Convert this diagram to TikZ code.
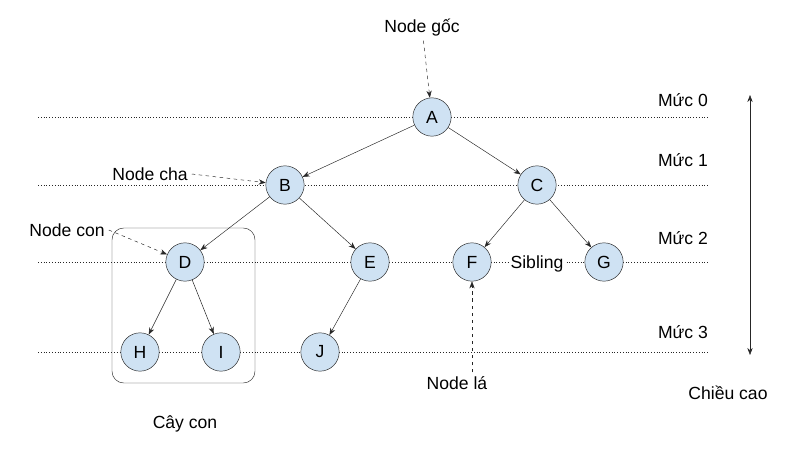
\documentclass[tikz,border=0pt]{standalone}
\usepackage{fontspec}
\setmainfont{Liberation Sans}
\usetikzlibrary{arrows.meta}
\definecolor{nodefill}{HTML}{CFE2F3}
\tikzset{
  tnode/.style={circle,draw=black!85,fill=nodefill,minimum size=1.15cm,inner sep=0pt,font=\fontsize{15}{17}\selectfont},
  lbl/.style={font=\fontsize{15}{17}\selectfont},
  level/.style={dotted,black!85},
  edge/.style={-{Stealth[length=6pt]},black!85},
  hint/.style={dashed,-{Stealth[length=6pt]},black!85}
}
\begin{document}
\begin{tikzpicture}[x=0.03cm,y=-0.03cm]
            \useasboundingbox (0,0) rectangle (800,450);
            % muc
            \draw[level] (38,117) -- (710,117);
            \draw[level] (38,185) -- (710,185);
            \draw[level] (38,262) -- (710,262);
            \draw[level] (38,352) -- (710,352);
            \node[lbl] at (683,100) {Mức 0};
            \node[lbl] at (683,160) {Mức 1};
            \node[lbl] at (683,238) {Mức 2};
            \node[lbl] at (683,332) {Mức 3};
            \draw[{Stealth[length=6pt]}-{Stealth[length=6pt]},black!85] (750,95) -- (750,355);
            \node[lbl] at (728,393) {Chiều cao};
            % cay con
            \draw[rounded corners=10pt,black!85] (112,228) rectangle (255,383);
            \node[lbl] at (185,424) {Cây con};

            \node[tnode] (A) at (432,117) {A};
            \node[tnode] (B) at (285,185) {B};
            \node[tnode] (C) at (537,185) {C};
            \node[tnode] (D) at (185,262) {D};
            \node[tnode] (E) at (370,262) {E};
            \node[tnode] (F) at (472,262) {F};
            \node[tnode] (G) at (604,262) {G};
            \node[tnode] (H) at (140,352) {H};
            \node[tnode] (I) at (221,352) {I};
            \node[tnode] (J) at (320,352) {J};

            \draw[edge] (A) -- (B);
            \draw[edge] (A) -- (C);
            \draw[edge] (B) -- (D);
            \draw[edge] (B) -- (E);
            \draw[edge] (C) -- (F);
            \draw[edge] (C) -- (G);
            \draw[edge] (D) -- (H);
            \draw[edge] (D) -- (I);
            \draw[edge] (E) -- (J);

            \node[lbl] (goc) at (422,28) {Node gốc};
            \draw[hint] (goc) -- (A);
            \node[lbl] (cha) at (150,174) {Node cha};
            \draw[hint] (cha.east) -- (B);
            \node[lbl] (con) at (67,230) {Node con};
            \draw[hint] (con.east) -- (D);
            \node[lbl] (la) at (457,383) {Node lá};
            \draw[hint] (la.north -| F) -- (F);
            \node[lbl,fill=white,inner sep=1pt] (sib) at (537,264) {Sibling};
\end{tikzpicture}
\end{document}
